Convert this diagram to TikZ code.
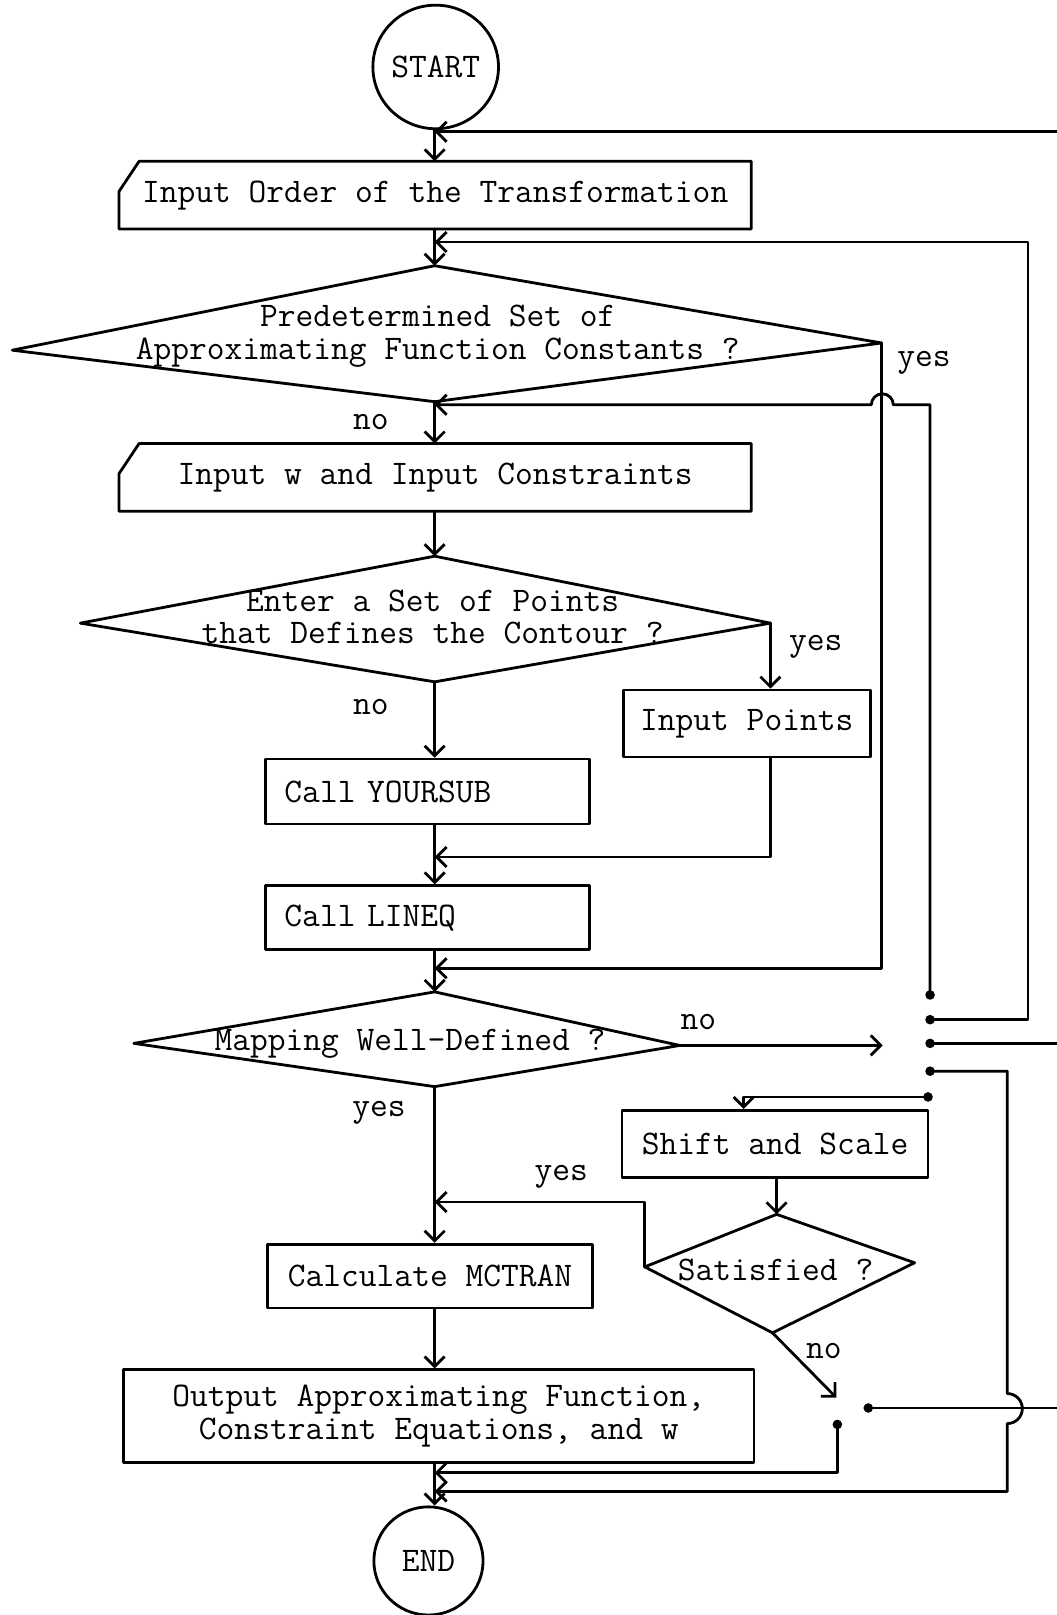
\documentclass[tikz,border=0pt]{standalone}
\usetikzlibrary{arrows.meta,shapes.geometric}
\begin{document}
\begin{tikzpicture}[x=1.0302pt,y=-1.0302pt,
  line width=2.8pt, line join=round, line cap=round,
  every node/.style={font=\fontsize{34.5}{33}\selectfont\ttfamily, inner sep=0pt},
  boxnode/.style={draw, rectangle},
  incard/.style={rectangle},
  lbl/.style={},
  arr/.style={-{Straight Barb[length=10pt,width=20pt]}},
  dotc/.style={fill=black}
]
\useasboundingbox (0,0) rectangle (1026,1568);
\coordinate (ax) at (422,0);

% terminals
\node[draw, ellipse, minimum width=109.2pt, minimum height=123.6pt] (start) at (423,65) {START};
\node[draw, ellipse, minimum width=109.2pt, minimum height=108.2pt] (end) at (416,1515.5) {END};

% input cards
\node[incard, minimum width=629.5pt, minimum height=64.9pt] (in1) at (422.5,189.5) {Input Order of the Transformation};
\draw (in1.north east) -- (in1.south east) -- (in1.south west) -- ([yshift=-30pt]in1.north west) -- ([xshift=20pt]in1.north west) -- cycle;
\node[incard, minimum width=629.5pt, minimum height=64.9pt] (in2) at (422.5,463.5) {Input w and Input Constraints};
\draw (in2.north east) -- (in2.south east) -- (in2.south west) -- ([yshift=-30pt]in2.north west) -- ([xshift=20pt]in2.north west) -- cycle;

% process boxes
\node[boxnode, minimum width=247.2pt, minimum height=67pt] (pts) at (725,702.5) {Input Points};
\node[boxnode, minimum width=323.5pt, minimum height=64.9pt, text width=286pt, inner xsep=18.5pt, align=left] (ys) at (415,768.5) {Call YOURSUB};
\node[boxnode, minimum width=323.5pt, minimum height=63.9pt, text width=286pt, inner xsep=18.5pt, align=left] (lq) at (415,891) {Call LINEQ};
\node[boxnode, minimum width=306pt, minimum height=67pt] (sh) at (752.5,1110.5) {Shift and Scale};
\node[boxnode, minimum width=324.5pt, minimum height=63.9pt] (mc) at (417.5,1239) {Calculate MCTRAN};
\node[boxnode, minimum width=630.5pt, minimum height=92.7pt, align=center] (out) at (426,1375) {Output Approximating Function,\\Constraint Equations, and w};

% decisions
\coordinate (d1t) at (422,258); \coordinate (d1r) at (856,333);
\coordinate (d1b) at (422,390); \coordinate (d1l) at (12,340);
\draw (d1t) -- (d1r) -- (d1b) -- (d1l) -- cycle;
\node[align=center] (d1) at (425,326) {Predetermined Set of\\Approximating Function Constants ?};

\coordinate (d2t) at (422,540); \coordinate (d2r) at (748,605);
\coordinate (d2b) at (422,662); \coordinate (d2l) at (78,605);
\draw (d2t) -- (d2r) -- (d2b) -- (d2l) -- cycle;
\node[align=center] (d2) at (420,599) {Enter a Set of Points\\that Defines the Contour ?};

\coordinate (d3t) at (422,963); \coordinate (d3r) at (660,1015);
\coordinate (d3b) at (422,1055); \coordinate (d3l) at (130,1013);
\draw (d3t) -- (d3r) -- (d3b) -- (d3l) -- cycle;
\node (d3) at (398,1013) {Mapping Well-Defined ?};

\coordinate (d4t) at (754,1179); \coordinate (d4r) at (888,1226);
\coordinate (d4b) at (750,1294); \coordinate (d4l) at (626,1230);
\draw (d4t) -- (d4r) -- (d4b) -- (d4l) -- cycle;
\node (d4) at (753,1233) {Satisfied ?};

% switch contacts
\coordinate (s1a) at (903,966);
\coordinate (s1b) at (903,990);
\coordinate (s1c) at (903,1013);
\coordinate (s1d) at (903,1040);
\coordinate (s1e) at (901,1065);
\coordinate (s1p) at (857,1015);
\coordinate (s2a) at (843,1367);
\coordinate (s2b) at (813,1383);
\coordinate (s2p) at (812,1357);
\coordinate (e1) at (1026,128);
\coordinate (e2) at (1026,1013);
\coordinate (e3) at (1026,1367);
\foreach \p in {s1a,s1b,s1c,s1d,s1e,s2a,s2b} \fill[dotc] (\p) circle (4.8pt);

% labels
\node[lbl] (l1y) at (897,352) {yes};
\node[lbl] (l1n) at (360,410) {no};
\node[lbl] (l2y) at (792,628) {yes};
\node[lbl] (l2n) at (360,686) {no};
\node[lbl] (l3n) at (678,992) {no};
\node[lbl] (l3y) at (368,1080) {yes};
\node[lbl] (l4y) at (545,1143) {yes};
\node[lbl] (l4n) at (800,1312) {no};

% main flow
\draw[arr] (start.south -| ax) -- (in1.north -| ax);
\draw[arr] (e1) -- (ax |- e1);
\draw[arr] (in1.south -| ax) -- (d1t);
\draw[arr] (s1b) -- (998,990) -- (998,235) -- (422,235);
\draw[arr] (d1b) -- (in2.north -| ax);
\draw[arr] (s1a) -- (903,393) -- (867.3,393) arc[start angle=0, end angle=180, radius=11pt] -- (422,393);
\draw[arr] (d1r) -- (856,940) -- (422,940);
\draw[arr] (in2.south -| ax) -- (d2t);
\draw[arr] (d2r) -- (d2r |- pts.north);
\draw[arr] (d2b) -- (ys.north -| ax);
\draw[arr] (pts.south -| d2r) -- (748,832) -- (422,832);
\draw[arr] (ys.south -| ax) -- (lq.north -| ax);
\draw[arr] (lq.south -| ax) -- (d3t);
\draw[arr] (d3r) -- (s1p);
\draw (s1c) -- (e2);
\draw[arr] (s1d) -- (978,1040) -- (978,1353) arc[start angle=90, end angle=-90, radius=15pt] -- (978,1448) -- (422,1448);
\draw[arr] (s1e) -- (722,1065) -- (sh.north -| 722,0);
\draw[arr] (d3b) -- (mc.north -| ax);
\draw[arr] (sh.south -| d4t) -- (d4t);
\draw[arr] (d4l) -- (626,1167) -- (422,1167);
\draw[arr] (d4b) -- (s2p);
\draw (s2a) -- (e3);
\draw[arr] (s2b) -- (813,1430) -- (422,1430);
\draw[arr] (mc.south -| ax) -- (out.north -| ax);
\draw[arr] (out.south -| ax) -- (end.north -| ax);
\end{tikzpicture}
\end{document}
